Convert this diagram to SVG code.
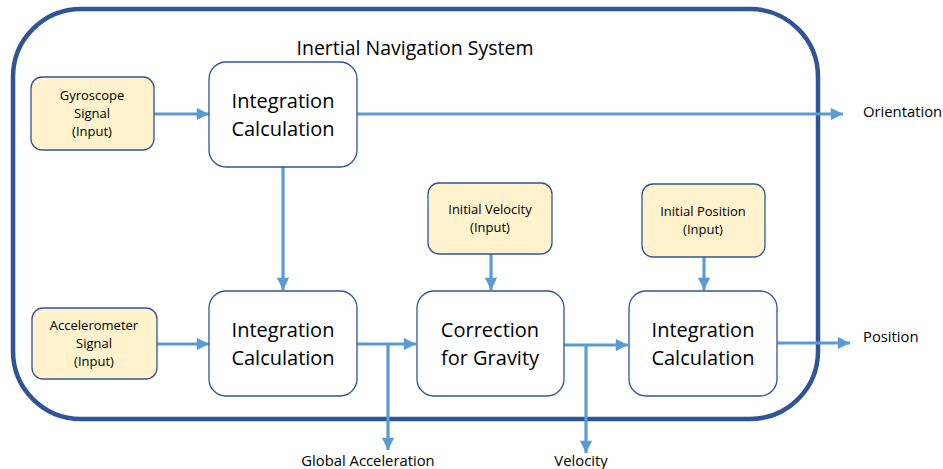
<svg xmlns="http://www.w3.org/2000/svg" width="943" height="469" viewBox="0 0 943 469">
<defs>
<marker id="ah" viewBox="0 0 10 10" refX="10" refY="5" markerWidth="4.2" markerHeight="3.8" markerUnits="strokeWidth" orient="auto">
<path d="M0,0 L10,5 L0,10 z" fill="#5B9BD5"/>
</marker>
<style>
text{font-family:"Open Sans","Liberation Sans",sans-serif;fill:#000;text-anchor:middle}
.frame{fill:none;stroke:#2F5597;stroke-width:4.5}
.proc{fill:#fff;stroke:#2F5597;stroke-width:1.3}
.inp{fill:#FFF2CC;stroke:#2F5597;stroke-width:1.3}
.big{font-size:20px}
.sm{font-size:13px}
.out{font-size:14.8px;text-anchor:start}
.lab{font-size:14.8px}
.c{fill:none;stroke:#5B9BD5;stroke-width:3.2}
</style>
</defs>
<g id="frame">
<rect class="frame" x="13" y="9" width="805" height="410" rx="68"/>
<text x="415" y="55" style="font-size:19.5px">Inertial Navigation System</text>
</g>
<g id="connectors">
<path class="c" d="M154,114 H209" marker-end="url(#ah)"/>
<path class="c" d="M357,114 H843" marker-end="url(#ah)"/>
<path class="c" d="M283,167 V290" marker-end="url(#ah)"/>
<path class="c" d="M157,344 H209" marker-end="url(#ah)"/>
<path class="c" d="M357,344 H416" marker-end="url(#ah)"/>
<path class="c" d="M388,344 V450" marker-end="url(#ah)"/>
<path class="c" d="M491,254 V290" marker-end="url(#ah)"/>
<path class="c" d="M564,345 H628" marker-end="url(#ah)"/>
<path class="c" d="M586,345 V453" marker-end="url(#ah)"/>
<path class="c" d="M704,257 V290" marker-end="url(#ah)"/>
<path class="c" d="M777,343 H850" marker-end="url(#ah)"/>
</g>
<g id="gyro">
<rect class="inp" x="31" y="77" width="123" height="73" rx="11"/>
<text class="sm" x="92" y="100">Gyroscope</text>
<text class="sm" x="92" y="118">Signal</text>
<text class="sm" x="92" y="136">(Input)</text>
</g>
<g id="int1">
<rect class="proc" x="209" y="62" width="148" height="105" rx="17"/>
<text class="big" x="283" y="108">Integration</text>
<text class="big" x="283" y="136">Calculation</text>
</g>
<g id="accel">
<rect class="inp" x="32" y="308" width="125" height="71" rx="11"/>
<text class="sm" x="94" y="330">Accelerometer</text>
<text class="sm" x="94" y="348">Signal</text>
<text class="sm" x="94" y="366">(Input)</text>
</g>
<g id="int2">
<rect class="proc" x="209" y="291" width="148" height="105" rx="17"/>
<text class="big" x="283" y="337">Integration</text>
<text class="big" x="283" y="365">Calculation</text>
</g>
<g id="ivel">
<rect class="inp" x="428" y="183" width="124" height="71" rx="11"/>
<text class="sm" x="490" y="214">Initial Velocity</text>
<text class="sm" x="490" y="232">(Input)</text>
</g>
<g id="corr">
<rect class="proc" x="417" y="291" width="147" height="105" rx="17"/>
<text class="big" x="490" y="337">Correction</text>
<text class="big" x="490" y="365">for Gravity</text>
</g>
<g id="ipos">
<rect class="inp" x="642" y="184" width="123" height="73" rx="11"/>
<text class="sm" x="703" y="216">Initial Position</text>
<text class="sm" x="703" y="234">(Input)</text>
</g>
<g id="int3">
<rect class="proc" x="629" y="291" width="148" height="105" rx="17"/>
<text class="big" x="703" y="337">Integration</text>
<text class="big" x="703" y="365">Calculation</text>
</g>
<g id="labels">
<text class="out" x="863" y="117">Orientation</text>
<text class="out" x="863" y="342">Position</text>
<text class="lab" x="368" y="466">Global Acceleration</text>
<text class="lab" x="581" y="466">Velocity</text>
</g>
</svg>
